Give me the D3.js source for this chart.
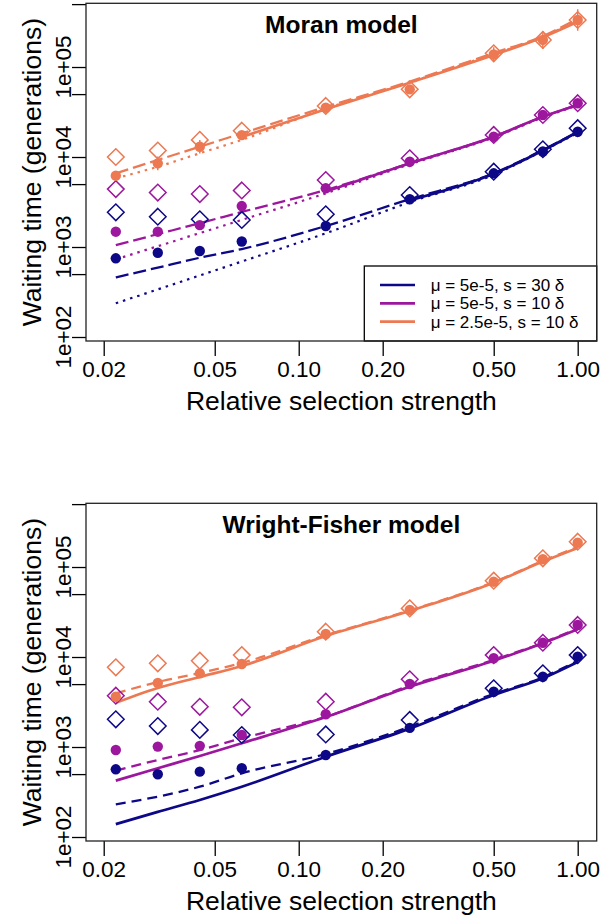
<!DOCTYPE html>
<html><head><meta charset="utf-8">
<script src="https://cdn.jsdelivr.net/npm/d3@7"></script>
<style>
body{margin:0;background:#fff}
svg{display:block}
text{font-family:"Liberation Sans",Arial,Helvetica,sans-serif;fill:#000}
</style>
</head><body>
<svg id="chart" width="603" height="919"></svg>
<script>
// ---------- data ----------
const selectionStrength = [0.0221, 0.03125, 0.0442, 0.0625, 0.125, 0.25, 0.5, 0.75, 1];
const xTickValues = [0.02, 0.05, 0.10, 0.20, 0.50, 1.00];
const yTickValues = [1e2, 5e2, 1e3, 5e3, 1e4, 5e4, 1e5, 5e5];
const yLabelValues = [1e2, 1e3, 1e4, 1e5];
const seriesNames = ["\u03bc = 5e-5, s = 30 \u03b4", "\u03bc = 5e-5, s = 10 \u03b4", "\u03bc = 2.5e-5, s = 10 \u03b4"];
const seriesColors = ["#0D0887", "#9C179E", "#ED7953"];
const panelTitles = ["Moran model", "Wright-Fisher model"];

// Moran model
const moranNavyDiamond = [2430, 2170, 2030, 2000, 2310, 3780, 6870, 12200, 20900];
const moranNavyCircle  = [749, 864, 903, 1150, 1710, 3390, 6590, 11500, 19100];
const moranNavySolid   = [null, null, null, null, null, 3300, 6500, 11800, 19000];
const moranNavyDashed  = [460, 590, 760, 950, 1710, 3400, 6600, 12000, 19000];
const moranNavyDotted  = [237, 338, 483, 690, 1420, 3150, 6350, 11700, 18500];

const moranPurpleDiamond = [4400, 4030, 3880, 4250, 5550, 9690, 17600, 29300, 39600];
const moranPurpleCircle  = [1480, 1480, 1750, 2850, 4490, 8870, 16800, 29300, 39600];
const moranPurpleSolid   = [null, null, null, null, 4130, 8510, 16800, 28000, 37800];
const moranPurpleDashed  = [1050, 1390, 1840, 2450, 4300, 8510, 16800, 28000, 37800];
const moranPurpleDotted  = [730, 1020, 1430, 2000, 3950, 8300, 16500, 27500, 37500];

const moranOrangeDiamond = [10000, 11800, 15500, 19600, 36900, 56500, 142000, 200000, 333000];
const moranOrangeCircle  = [6200, 8500, 13000, 17500, 35300, 56500, 138000, 200000, 333000];
const moranOrangeErr     = [1.05, 1.19, 1.19, 1.11, 1.07, 1.07, 1.2, 1.26, 1.32];
const moranOrangeSolid   = [null, null, null, 16700, 34000, 67000, 136000, 214000, 318000];
const moranOrangeDashed  = [6590, 9270, 13000, 18300, 36000, 69000, 143000, 220000, 345000];
const moranOrangeDotted  = [5800, 7800, 11000, 15500, 34500, 67500, 140000, 216000, 335000];

// Wright-Fisher model
const wfNavyDiamond = [2030, 1710, 1550, 1360, 1380, 2000, 4490, 6590, 10500];
const wfNavyCircle  = [565, 498, 532, 580, 815, 1630, 4110, 6040, 10100];
const wfNavySolid   = [139, 190, 258, 362, 780, 1600, 3790, 5800, 8790];
const wfNavyDashed  = [231, 281, 362, 510, 836, 1680, 3900, 5950, 9100];

const wfPurpleDiamond = [3720, 3190, 2800, 2760, 3190, 5650, 10500, 14400, 22700];
const wfPurpleCircle  = [926, 1010, 1030, 1360, 2310, 5010, 9680, 14400, 22700];
const wfPurpleSolid   = [423, 580, 795, 1100, 2150, 4680, 9100, 14200, 20300];
const wfPurpleDashed  = [546, 717, 926, 1250, 2170, 4800, 9300, 14400, 20800];

const wfOrangeDiamond = [7690, 8510, 9100, 10500, 19100, 34700, 70500, 125000, 191000];
const wfOrangeCircle  = [3620, 5140, 6590, 8360, 18000, 33300, 68700, 122000, 186000];
const wfOrangeSolid   = [3100, 4530, 6000, 7940, 17100, 32500, 67000, 115000, 163000];
const wfOrangeDashed  = [3950, 5270, 6640, 8580, 17500, 33000, 68000, 117000, 167000];

// axis limits
const xLimits = [0.01728, 1.1698];
const yLimits = [90.28, 510500];

// ---------- build ----------
const panels = [
  {
    title: panelTitles[0], top: 3.3, legend: true,
    series: [
      {color: seriesColors[0], diamond: moranNavyDiamond, circle: moranNavyCircle, solid: moranNavySolid, dashed: moranNavyDashed, dotted: moranNavyDotted},
      {color: seriesColors[1], diamond: moranPurpleDiamond, circle: moranPurpleCircle, solid: moranPurpleSolid, dashed: moranPurpleDashed, dotted: moranPurpleDotted},
      {color: seriesColors[2], diamond: moranOrangeDiamond, circle: moranOrangeCircle, err: moranOrangeErr, solid: moranOrangeSolid, dashed: moranOrangeDashed, dotted: moranOrangeDotted}
    ]
  },
  {
    title: panelTitles[1], top: 503.3, legend: false,
    series: [
      {color: seriesColors[0], diamond: wfNavyDiamond, circle: wfNavyCircle, solid: wfNavySolid, dashed: wfNavyDashed},
      {color: seriesColors[1], diamond: wfPurpleDiamond, circle: wfPurpleCircle, solid: wfPurpleSolid, dashed: wfPurpleDashed},
      {color: seriesColors[2], diamond: wfOrangeDiamond, circle: wfOrangeCircle, solid: wfOrangeSolid, dashed: wfOrangeDashed}
    ]
  }
];

const svg = d3.select("#chart");
const left = 86, right = 596.7, plotH = 337.7;
const x = d3.scaleLog().domain(xLimits).range([left, right]);

panels.forEach((p, pi) => {
  const top = p.top, bottom = top + plotH;
  const y = d3.scaleLog().domain(yLimits).range([bottom, top]);
  const g = svg.append("g");

  const clipId = "clip" + pi;
  g.append("clipPath").attr("id", clipId).append("rect")
    .attr("x", left).attr("y", top).attr("width", right - left).attr("height", plotH);

  // x axis
  const xAxis = g.append("g").attr("transform", `translate(0,${bottom})`)
    .call(d3.axisBottom(x).tickValues(xTickValues).tickFormat(d3.format(".2f")).tickSize(15).tickPadding(5));
  xAxis.select(".domain").remove();
  xAxis.selectAll(".tick line").attr("stroke", "#000").attr("stroke-width", 1.3);
  xAxis.selectAll(".tick text").attr("font-size", 22.5).attr("fill", "#000")
    .style("font-family", '"Liberation Sans",Arial,sans-serif');

  // y axis
  const yAxis = g.append("g").attr("transform", `translate(${left},0)`)
    .call(d3.axisLeft(y).tickValues(yTickValues).tickFormat("").tickSize(14));
  yAxis.select(".domain").remove();
  yAxis.selectAll(".tick line").attr("stroke", "#000").attr("stroke-width", 1.3);
  g.selectAll(".ylab").data(yLabelValues).join("text")
    .attr("class", "ylab")
    .attr("transform", d => `translate(70.5,${y(d)}) rotate(-90)`)
    .attr("text-anchor", "middle").attr("font-size", 22.5)
    .text(d => "1e+" + String(Math.round(Math.log10(d))).padStart(2, "0"));

  // axis titles
  g.append("text").attr("x", (left + right) / 2).attr("y", bottom + 68.5)
    .attr("text-anchor", "middle").attr("font-size", 26.5).text("Relative selection strength");
  g.append("text").attr("transform", `translate(41,${(top + bottom) / 2}) rotate(-90)`)
    .attr("text-anchor", "middle").attr("font-size", 26.5).text("Waiting time (generations)");

  // lines
  const plot = g.append("g").attr("clip-path", `url(#${clipId})`);
  const line = d3.line().defined(d => d[1] != null).x(d => x(d[0])).y(d => y(d[1])).curve(d3.curveMonotoneX);
  const styles = [
    {key: "dotted", dash: "2.5,5", width: 2.2},
    {key: "dashed", dash: pi === 0 ? "13,5" : "10,6", width: 2.3},
    {key: "solid", dash: null, width: 2.7}
  ];
  p.series.forEach(s => {
    styles.forEach(st => {
      if (!s[st.key]) return;
      const pts = selectionStrength.map((v, i) => [v, s[st.key][i]]);
      plot.append("path").attr("d", line(pts)).attr("fill", "none")
        .attr("stroke", s.color).attr("stroke-width", st.width)
        .attr("stroke-dasharray", st.dash);
    });
  });

  // points
  p.series.forEach(s => {
    const dpts = selectionStrength.map((v, i) => [v, s.diamond[i]]);
    const r = 8.3;
    plot.selectAll(null).data(dpts).join("path")
      .attr("d", d => {
        const cx = x(d[0]), cy = y(d[1]);
        return `M${cx},${cy - r}L${cx + r},${cy}L${cx},${cy + r}L${cx - r},${cy}Z`;
      })
      .attr("fill", "none").attr("stroke", s.color).attr("stroke-width", 1.5);
    const cpts = selectionStrength.map((v, i) => [v, s.circle[i], s.err ? s.err[i] : null]);
    if (s.err) {
      plot.selectAll(null).data(cpts).join("line")
        .attr("x1", d => x(d[0])).attr("x2", d => x(d[0]))
        .attr("y1", d => y(d[1] * d[2])).attr("y2", d => y(d[1] / d[2]))
        .attr("stroke", s.color).attr("stroke-width", 1.5);
    }
    plot.selectAll(null).data(cpts).join("circle")
      .attr("cx", d => x(d[0])).attr("cy", d => y(d[1])).attr("r", 5.2)
      .attr("fill", s.color);
  });

  // title
  g.append("text").attr("x", (left + right) / 2).attr("y", top + 29.7)
    .attr("text-anchor", "middle").attr("font-size", 24.5).attr("font-weight", "bold")
    .text(p.title);

  // legend
  if (p.legend) {
    const lg = g.append("g");
    lg.append("rect").attr("x", 364.3).attr("y", bottom - 75).attr("width", right - 364.3).attr("height", 75)
      .attr("fill", "#fff").attr("stroke", "#000").attr("stroke-width", 1.3);
    seriesNames.forEach((name, i) => {
      const ly = bottom - 56 + i * 18.3;
      lg.append("line").attr("x1", 380).attr("x2", 415).attr("y1", ly).attr("y2", ly)
        .attr("stroke", seriesColors[i]).attr("stroke-width", 2.7);
      lg.append("text").attr("x", 430.7).attr("y", ly + 6).attr("font-size", 17).text(name);
    });
  }

  // box
  g.append("rect").attr("x", left).attr("y", top).attr("width", right - left).attr("height", plotH)
    .attr("fill", "none").attr("stroke", "#222").attr("stroke-width", 1.3);
});
</script>
</body></html>
